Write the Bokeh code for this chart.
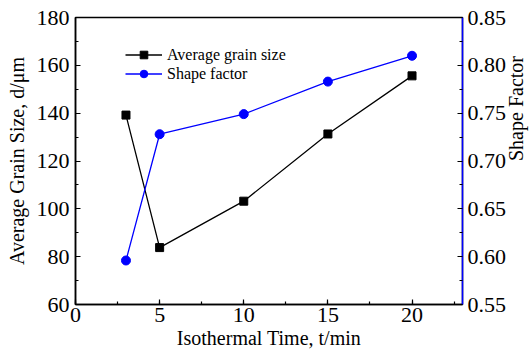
import math
from bokeh.plotting import figure
from bokeh.models import (LinearAxis, Range1d, SingleIntervalTicker, FixedTicker, Legend, LegendItem,
                          PrintfTickFormatter)
from bokeh.embed import file_html
from bokeh.resources import INLINE

# data
time_min = [3, 5, 10, 15, 20]
grain_size = [139.2, 83.8, 103.2, 131.3, 155.6]
shape_factor = [0.596, 0.728, 0.749, 0.783, 0.810]
shape_ticks = [0.55, 0.60, 0.65, 0.70, 0.75, 0.80, 0.85]
shape_minor = [0.575, 0.625, 0.675, 0.725, 0.775, 0.825]

FONT = "Liberation Serif"

p = figure(width=529, height=360, x_range=Range1d(0, 23), y_range=Range1d(60, 180),
           output_backend="svg", toolbar_location=None,
           min_border_left=75, min_border_right=67, min_border_top=17, min_border_bottom=56)
p.frame_width = 387
p.frame_height = 287
p.xgrid.visible = False
p.ygrid.visible = False
p.outline_line_color = "black"
p.outline_line_width = 1.5
p.background_fill_color = "white"

p.extra_y_ranges = {"shape": Range1d(0.55, 0.85)}

def style(ax, color="black"):
    ax.axis_line_color = color
    ax.axis_line_width = 1.5
    ax.major_tick_line_color = "black"
    ax.minor_tick_line_color = "black"
    ax.major_tick_in = 5
    ax.major_tick_out = 0
    ax.minor_tick_in = 3
    ax.minor_tick_out = 0
    ax.major_tick_line_width = 1.2
    ax.minor_tick_line_width = 1.2
    ax.major_label_text_font = FONT
    ax.major_label_text_font_size = "22px"
    ax.major_label_text_color = "black"
    ax.axis_label_text_font = FONT
    ax.axis_label_text_font_size = "20px"
    ax.axis_label_text_font_style = "normal"
    ax.axis_label_text_color = "black"

xa = p.xaxis[0]
xa.ticker = SingleIntervalTicker(interval=5, num_minor_ticks=2)
xa.axis_label = "Isothermal Time, t/min"
style(xa)
xa.major_label_standoff = 3
xa.axis_label_standoff = 2

ya = p.yaxis[0]
ya.ticker = SingleIntervalTicker(interval=20, num_minor_ticks=2)
ya.axis_label = "Average Grain Size, d/\u03bcm"
style(ya)
ya.major_label_standoff = 6
ya.axis_label_standoff = 6

ra = LinearAxis(y_range_name="shape", ticker=FixedTicker(ticks=shape_ticks, minor_ticks=shape_minor),
                formatter=PrintfTickFormatter(format="%.2f"))
style(ra, "#0000ff")
ra.major_label_standoff = 5
p.add_layout(ra, "right")

# right-side title drawn as the single tick label of a bare axis
rt = LinearAxis(y_range_name="shape", ticker=FixedTicker(ticks=[0.70], minor_ticks=[]),
                major_label_overrides={0.70: "Shape Factor"})
rt.axis_line_color = None
rt.major_tick_line_color = None
rt.minor_tick_line_color = None
rt.major_tick_in = 0
rt.major_tick_out = 0
rt.major_label_standoff = 6
rt.major_label_orientation = math.pi / 2
rt.major_label_text_font = FONT
rt.major_label_text_font_size = "20px"
rt.major_label_text_color = "black"
p.add_layout(rt, "right")

l1 = p.line(time_min, grain_size, line_color="black", line_width=1.3)
s1 = p.scatter(time_min, grain_size, marker="square", size=8, fill_color="black", line_color="black")
l2 = p.line(time_min, shape_factor, line_color="#0000ff", line_width=1.3, y_range_name="shape")
s2 = p.scatter(time_min, shape_factor, marker="circle", size=9, fill_color="#0000ff", line_color="#0000ff",
               y_range_name="shape")

legend = Legend(items=[LegendItem(label="Average grain size", renderers=[l1, s1]),
                       LegendItem(label="Shape factor", renderers=[l2, s2])],
                location=(50, 221), padding=0, margin=0, spacing=0,
                glyph_width=37, glyph_height=19, label_standoff=5,
                label_text_font=FONT, label_text_font_size="16px", label_text_color="black",
                border_line_color=None, background_fill_alpha=0)
p.add_layout(legend, "center")

open("out.html", "w").write(file_html(p, INLINE))
